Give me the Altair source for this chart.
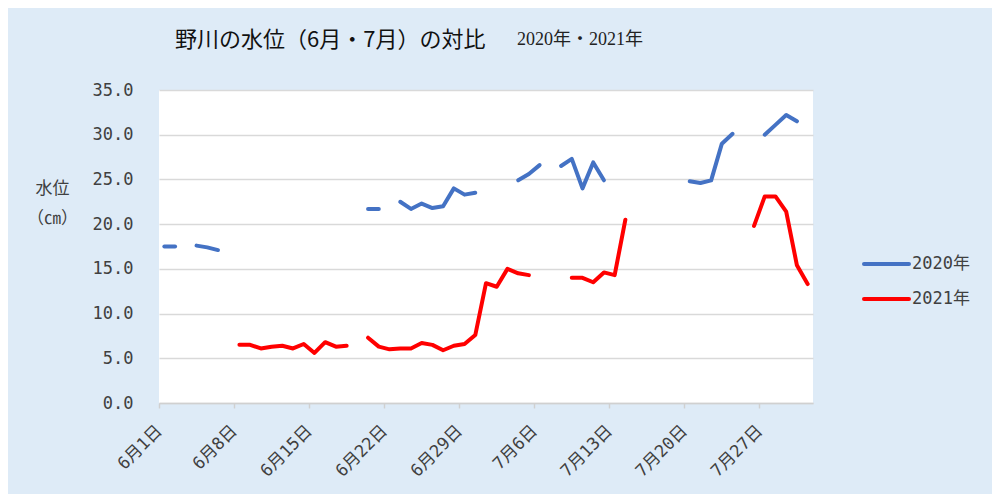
import altair as alt
import pandas as pd

# ---- data (index 0 = 6月1日 ... index 60 = 7月31日) ----
series_names = ["2020年", "2021年"]
series_colors = ["#4472C4", "#FF0000"]

water_2020 = [
    17.5, 17.5, None, 17.6, 17.4, 17.1, None, None, None, None,
    None, None, None, None, None, None, None, None, None, 21.7,
    21.7, None, 22.5, 21.7, 22.3, 21.8, 22.0, 24.0, 23.3, 23.5,
    None, None, None, 24.9, 25.6, 26.6, None, 26.5, 27.3, 24.0,
    26.9, 24.9, None, None, None, None, None, None, None, 24.8,
    24.6, 24.9, 29.0, 30.1, None, None, 30.0, 31.1, 32.2, 31.5,
    None,
]
water_2021 = [
    None, None, None, None, None, None, None, 6.5, 6.5, 6.1,
    6.3, 6.4, 6.1, 6.6, 5.6, 6.8, 6.3, 6.4, None, 7.3,
    6.3, 6.0, 6.1, 6.1, 6.7, 6.5, 5.9, 6.4, 6.6, 7.6,
    13.4, 13.0, 15.0, 14.5, 14.3, None, None, None, 14.0, 14.0,
    13.5, 14.6, 14.3, 20.5, None, None, None, None, None, None,
    None, None, None, None, None, 19.8, 23.1, 23.1, 21.4, 15.4,
    13.3,
]
tick_days = [0, 7, 14, 21, 28, 35, 42, 49, 56]
tick_labels = ["6月1日", "6月8日", "6月15日", "6月22日", "6月29日",
               "7月6日", "7月13日", "7月20日", "7月27日"]
y_ticks = [0, 5, 10, 15, 20, 25, 30, 35]

title_text = "野川の水位（6月・7月）の対比"
subtitle_text = "2020年・2021年"

# ---- long table, split into unbroken runs ----
rows = []
seg = 0
for name, vals in zip(series_names, [water_2020, water_2021]):
    seg += 1
    prev_none = True
    for i, v in enumerate(vals):
        if v is None:
            if not prev_none:
                seg += 1
            prev_none = True
            continue
        prev_none = False
        rows.append({"day": i, "level": v, "series": name, "seg": seg})
df = pd.DataFrame(rows)

label_array = "[" + ",".join("'" + t + "'" for t in tick_labels) + "]"

W, H = 654, 313
AXIS_FONT = "DejaVu Sans Mono, Noto Sans CJK JP"
TXT = "#404040"

lines = alt.Chart(df).mark_line(strokeWidth=4, strokeCap="round", strokeJoin="round").encode(
    x=alt.X("day:Q",
            scale=alt.Scale(domain=[-0.5, 60.5], nice=False, zero=False),
            axis=alt.Axis(values=[d - 0.5 for d in tick_days],
                          labelExpr=label_array + "[round((datum.value + 0.5) / 7)]",
                          labelAngle=-45, labelAlign="right", labelBaseline="middle",
                          labelFont=AXIS_FONT, labelFontSize=17, labelColor=TXT,
                          labelPadding=20, tickSize=5, tickColor="#D0D0D0", tickWidth=1.5,
                          domainColor="#D0D0D0", domainWidth=1.5, grid=False, title=None)),
    y=alt.Y("level:Q",
            scale=alt.Scale(domain=[0, 35], nice=False),
            axis=alt.Axis(values=y_ticks, format=".1f", grid=True, gridColor="#D9D9D9",
                          gridWidth=1.5, domain=False, ticks=False, labelPadding=26,
                          labelFont=AXIS_FONT, labelFontSize=17, labelColor=TXT,
                          title=["水位", "（㎝）"], titleAngle=0, titleAlign="center",
                          titleBaseline="top", titleX=-107, titleY=90,
                          titleFont="Noto Sans CJK JP", titleFontSize=17,
                          titleFontWeight="normal", titleColor=TXT, titleLineHeight=30)),
    color=alt.Color("series:N", scale=alt.Scale(domain=series_names, range=series_colors),
                    legend=None),
    detail="seg:N",
)

one = pd.DataFrame({"k": [0]})

title = alt.Chart(pd.DataFrame({"t": [title_text]})).mark_text(
    align="left", baseline="middle", font="Noto Sans CJK JP", fontSize=22, color="#111111"
).encode(text="t:N", x=alt.value(16), y=alt.value(-50))

subtitle = alt.Chart(pd.DataFrame({"t": [subtitle_text]})).mark_text(
    align="left", baseline="middle", font="Liberation Serif, Noto Sans CJK JP", fontSize=18,
    color="#222222"
).encode(text="t:N", x=alt.value(358), y=alt.value(-50))

legend_layers = []
for k, (name, col) in enumerate(zip(series_names, series_colors)):
    yy = 174 + 35 * k
    legend_layers.append(
        alt.Chart(one).mark_rule(strokeWidth=4, strokeCap="round", color=col).encode(
            x=alt.value(705), x2=alt.value(750), y=alt.value(yy))
    )
    legend_layers.append(
        alt.Chart(pd.DataFrame({"t": [name]})).mark_text(
            align="left", baseline="middle", font=AXIS_FONT, fontSize=17, color=TXT
        ).encode(text="t:N", x=alt.value(753), y=alt.value(yy))
    )

chart = alt.layer(lines, title, subtitle, *legend_layers).properties(
    width=W, height=H,
    background="#DEEBF7",
    autosize=alt.AutoSizeParams(type="none"),
    padding={"left": 151, "top": 82, "right": 179, "bottom": 91},
).configure_view(fill="white", strokeWidth=0)

chart.save("out.html", embed_options={"renderer": "svg", "actions": False})
